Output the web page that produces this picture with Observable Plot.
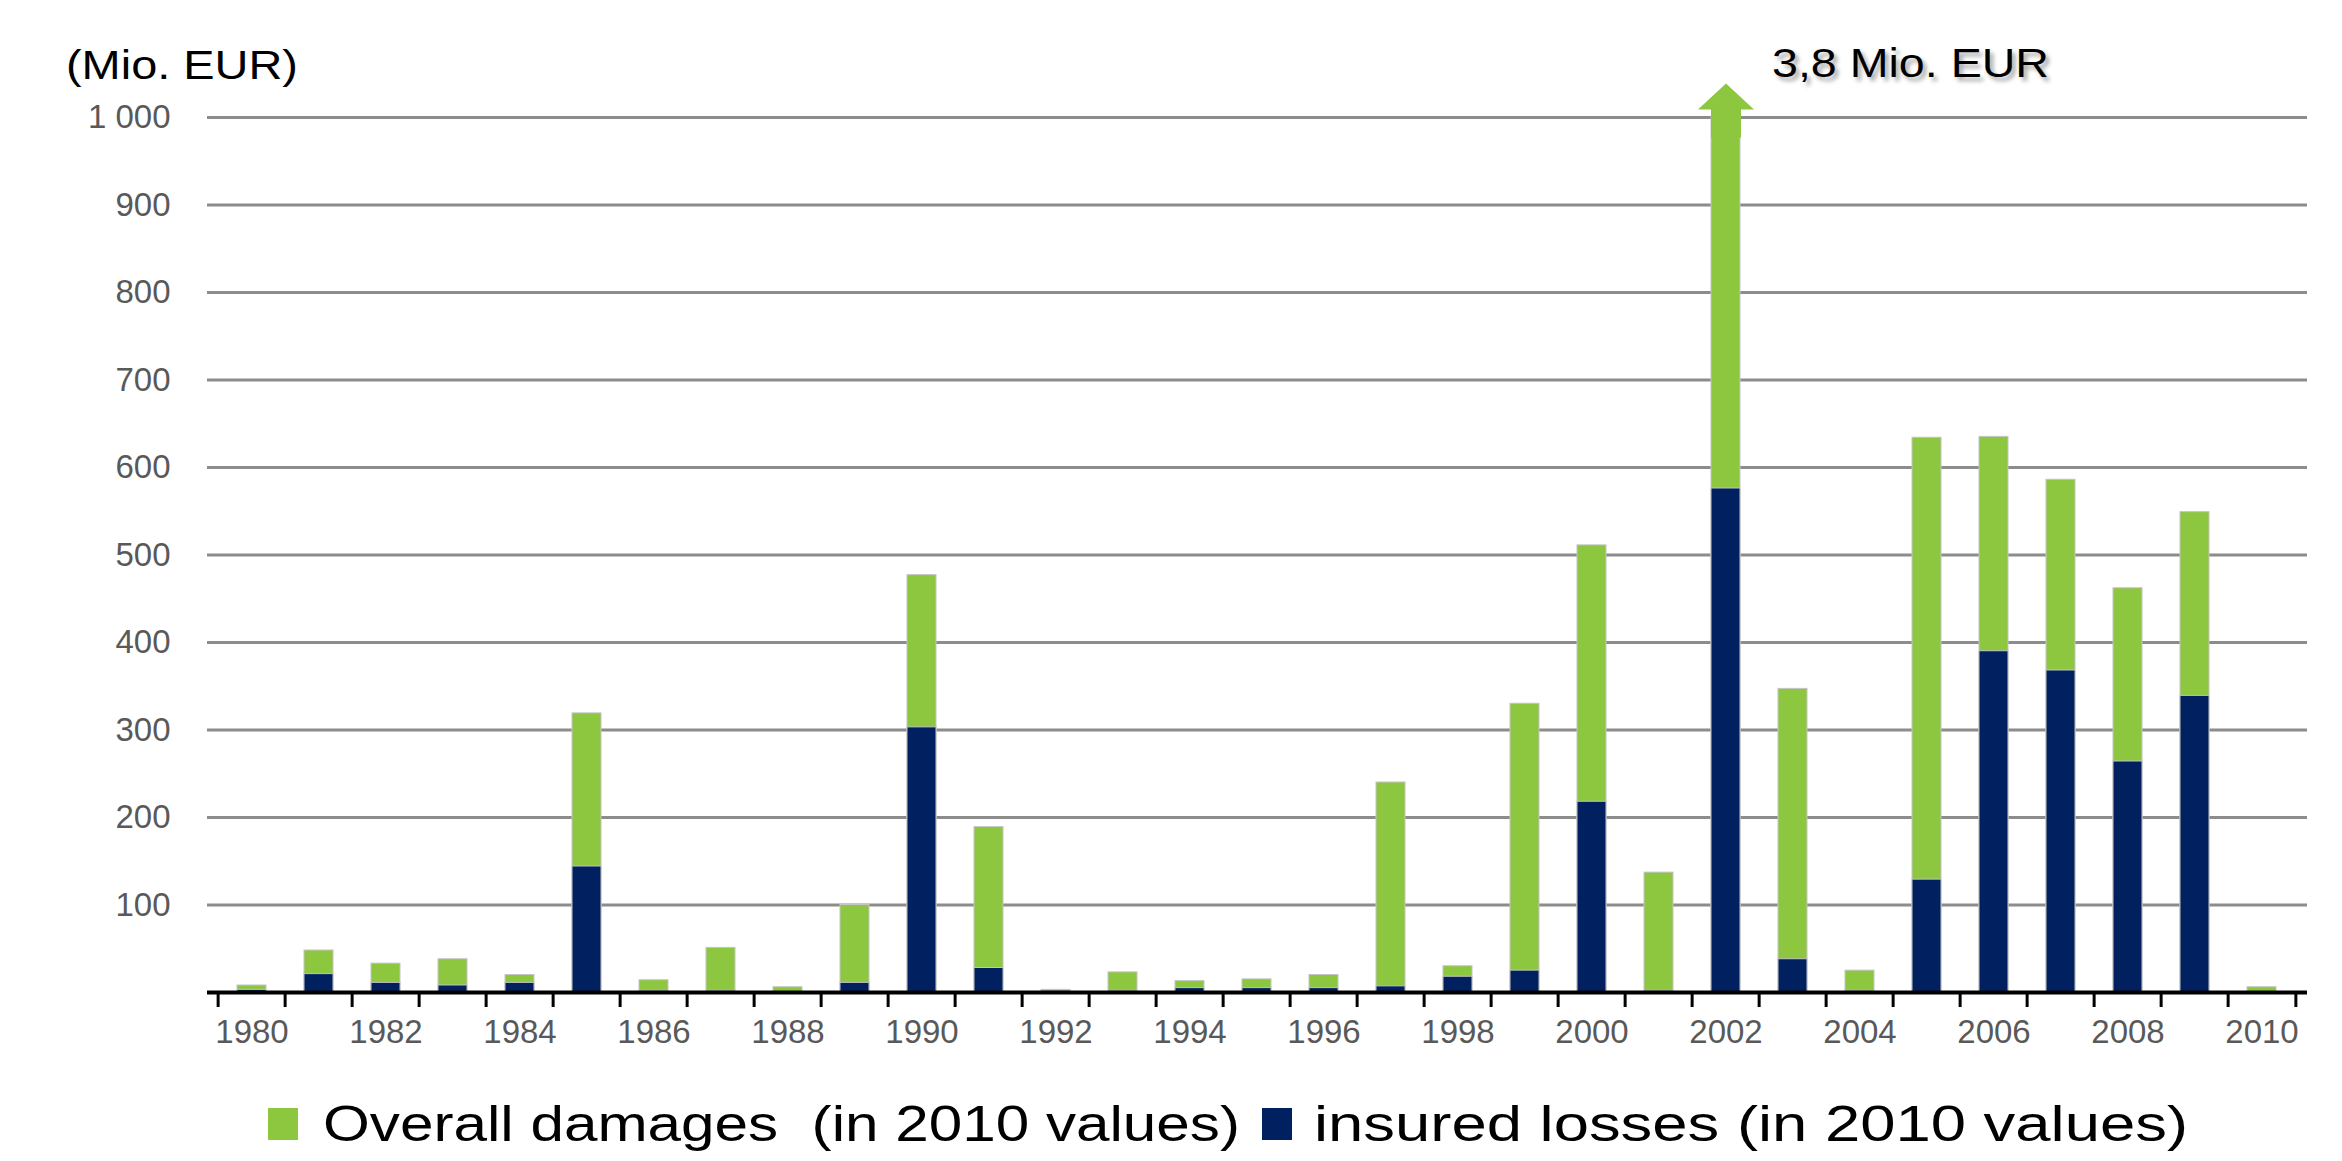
<!DOCTYPE html>
<html>
<head>
<meta charset="utf-8">
<script src="https://cdn.jsdelivr.net/npm/d3@7"></script>
<script src="https://cdn.jsdelivr.net/npm/@observablehq/plot@0.6"></script>
<style>
  html, body { margin: 0; padding: 0; background: #fff; }
  body { width: 2342px; height: 1161px; overflow: hidden; font-family: "Liberation Sans", Arial, sans-serif; }
  #title { position: relative; height: 90px; }
  #title span { position: absolute; left: 66px; top: 45px; font-size: 40px; line-height: 40px; color: #000; transform-origin: 0 50%; white-space: pre; }
  #chart svg { overflow: visible; }
  #legend { position: relative; height: 96px; }
  .item { position: absolute; top: 43px; height: 32px; display: flex; align-items: center; }
  .sw { width: 30px; height: 32px; }
  .lt { position: absolute; white-space: pre; font-size: 50px; line-height: 50px; color: #000; transform-origin: 0 50%; }
</style>
</head>
<body>
<div id="title"><span id="unit">(Mio. EUR)</span></div>
<div id="chart"></div>
<div id="legend"></div>
<script>
const years = [1980,1981,1982,1983,1984,1985,1986,1987,1988,1989,1990,1991,1992,1993,1994,1995,1996,1997,1998,1999,2000,2001,2002,2003,2004,2005,2006,2007,2008,2009,2010];
const overallDamages = [8,48,33,38,20,319,14,51,6,100,477,189,3,23,13,15,20,240,30,330,511,137,3800,347,25,634,635,586,462,549,6];
const insuredLosses = [3,21,11,8,11,144,2,2,0,11,303,28,2,2,5,5,5,7,18,25,218,2,576,38,2,129,390,368,264,339,0];
const xTickYears = [1980,1982,1984,1986,1988,1990,1992,1994,1996,1998,2000,2002,2004,2006,2008,2010];
const xTickLabels = ["1980","1982","1984","1986","1988","1990","1992","1994","1996","1998","2000","2002","2004","2006","2008","2010"];
const yTicks = [100,200,300,400,500,600,700,800,900,1000];
const yTickLabels = ["100","200","300","400","500","600","700","800","900","1 000"];
const yMax = 1000;
const seriesNames = ["Overall damages  (in 2010 values)", "insured losses (in 2010 values)"];
const seriesColors = ["#8DC63F", "#00205F"];
const overflowLabel = "3,8 Mio. EUR";

const data = years.map((y, i) => ({year: y, overall: overallDamages[i], insured: insuredLosses[i]}));
const overflow = data.filter(d => d.overall > yMax);

const W = 2342, H = 975, mL = 207, mR = 35, mT = 27, mB = 73;
const step = (W - mL - mR) / years.length;

const arrowSymbol = {
  draw(ctx) {
    const sw = 15, hw = 28;
    ctx.moveTo(-sw, 20);
    ctx.lineTo(-sw, -8);
    ctx.lineTo(-hw, -8);
    ctx.lineTo(0, -34);
    ctx.lineTo(hw, -8);
    ctx.lineTo(sw, -8);
    ctx.lineTo(sw, 20);
    ctx.closePath();
  }
};

const plot = Plot.plot({
  width: W, height: H,
  marginLeft: mL, marginRight: mR, marginTop: mT, marginBottom: mB,
  style: {fontFamily: "'Liberation Sans', Arial, sans-serif", fontSize: "33px", color: "#595959", background: "transparent", overflow: "visible"},
  x: {type: "band", domain: years, paddingInner: 0.56, paddingOuter: 0.28, ticks: xTickYears, tickFormat: d => xTickLabels[xTickYears.indexOf(d)], tickSize: 0, tickPadding: 27, label: null},
  y: {domain: [0, yMax], clamp: true, ticks: yTicks, tickFormat: d => yTickLabels[yTicks.indexOf(d)], tickSize: 0, tickPadding: 37, label: null},
  marks: [
    Plot.ruleY(yTicks, {stroke: "#8c8c8c", strokeWidth: 3}),
    Plot.barY(data, {x: "year", y: "overall", fill: seriesColors[0], stroke: "#c4c4c4", strokeWidth: 1}),
    Plot.barY(data, {x: "year", y: "insured", fill: seriesColors[1], stroke: "#c4c4c4", strokeWidth: 1}),
    Plot.dot(overflow, {x: "year", y: () => yMax, symbol: arrowSymbol, r: 10, fill: seriesColors[0], stroke: "none"}),
    Plot.ruleY([0], {stroke: "#000", strokeWidth: 4}),
    Plot.ruleX(years, {x: d => d, y1: 0, y2: 0, dx: -step / 2, insetBottom: -15, stroke: "#000", strokeWidth: 3}),
    Plot.ruleX(years.slice(-1), {x: d => d, y1: 0, y2: 0, dx: step / 2, insetBottom: -15, stroke: "#000", strokeWidth: 3}),
    Plot.text(overflow, {x: "year", y: () => yMax, text: () => overflowLabel, dx: 46, dy: -53, textAnchor: "start", fontSize: 40, fill: "#000"})
  ]
});
plot.style.overflow = "visible";
document.getElementById("chart").appendChild(plot);

// stretch & shadow the overflow annotation
plot.querySelectorAll('g[aria-label="text"] text').forEach(t => {
  t.setAttribute("textLength", "277");
  t.setAttribute("lengthAdjust", "spacingAndGlyphs");
  t.style.textShadow = "3px 4px 4px rgba(0,0,0,0.35)";
});

// unit label stretched to the reference width
const unit = document.getElementById("unit");
unit.style.transform = `scaleX(${232 / unit.getBoundingClientRect().width})`;

// legend
const legend = document.getElementById("legend");
const legendItems = [
  {name: seriesNames[0], color: seriesColors[0], left: 268, textLeft: 323, width: 917},
  {name: seriesNames[1], color: seriesColors[1], left: 1262, textLeft: 1314, width: 874}
];
legendItems.forEach(it => {
  const sw = document.createElement("div");
  sw.className = "item";
  sw.style.left = it.left + "px";
  sw.innerHTML = `<div class="sw" style="background:${it.color}"></div>`;
  legend.appendChild(sw);
  const t = document.createElement("div");
  t.className = "lt";
  t.textContent = it.name;
  t.style.left = it.textLeft + "px";
  t.style.top = (43 + 16 - 25) + "px";
  legend.appendChild(t);
  const w = t.getBoundingClientRect().width;
  t.style.transform = `scaleX(${it.width / w})`;
});
</script>
</body>
</html>
